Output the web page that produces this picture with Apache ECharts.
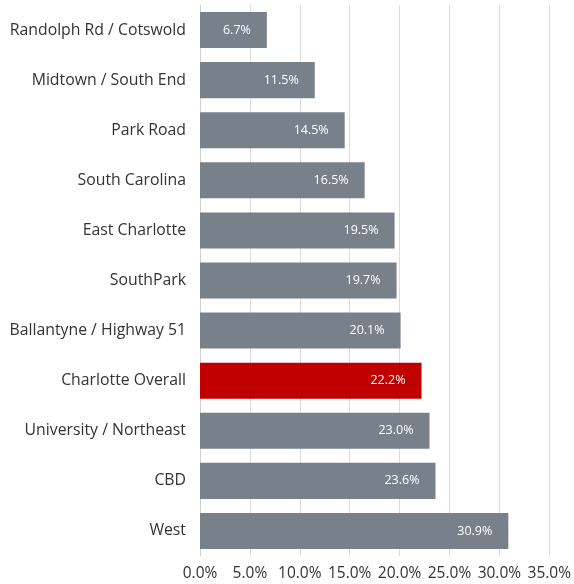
<!DOCTYPE html>
<html><head><meta charset="utf-8">
<script src="https://cdn.jsdelivr.net/npm/echarts@6/dist/echarts.min.js"></script>
<style>html,body{margin:0;padding:0;background:#fff}#c{width:574px;height:584px}</style>
</head><body><div id="c"></div>
<script>
const categories = ["Randolph Rd / Cotswold","Midtown / South End","Park Road","South Carolina","East Charlotte","SouthPark","Ballantyne / Highway 51","Charlotte Overall","University / Northeast","CBD","West"];
const values = [6.7,11.5,14.5,16.5,19.5,19.7,20.1,22.2,23.0,23.6,30.9];
const highlight = "Charlotte Overall";
const xTicks = [0,5,10,15,20,25,30,35];

const chart = echarts.init(document.getElementById('c'), null, {renderer:'canvas'});
chart.setOption({
  animation:false,
  grid:{left:200, right:22, top:5, bottom:28, containLabel:false},
  xAxis:{type:'value', min:xTicks[0], max:xTicks[xTicks.length-1], interval:5,
    axisLine:{show:false}, axisTick:{show:false},
    splitLine:{show:true, lineStyle:{color:'#dcdcdc', width:1}},
    axisLabel:{color:'#333', fontSize:15.5, fontFamily:'Open Sans', margin:10,
      formatter:v=>v.toFixed(1)+'%'}},
  yAxis:{type:'category', data:categories, inverse:true,
    axisLine:{show:true, lineStyle:{color:'#d0d0d0'}}, axisTick:{show:false},
    axisLabel:{color:'#333', fontSize:15.8, fontFamily:'Open Sans', margin:14}},
  series:[{type:'bar', barCategoryGap:'28%',
    data:values.map((v,i)=>({value:v, itemStyle:{color: categories[i]===highlight ? '#c00000' : '#78818a'}})),
    label:{show:true, position:'insideRight', distance:16, color:'#fff', fontSize:12.5, fontWeight:'normal',
      fontFamily:'Open Sans', formatter:p=>p.value.toFixed(1)+'%'}}]
});
</script></body></html>
